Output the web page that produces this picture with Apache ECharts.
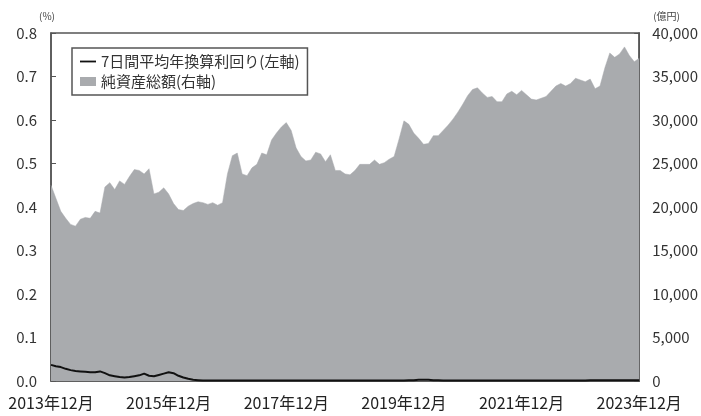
<!DOCTYPE html>
<html>
<head>
<meta charset="utf-8">
<script src="https://cdn.jsdelivr.net/npm/echarts@6/dist/echarts.min.js"></script>
<style>
html,body{margin:0;padding:0;background:#fff;}
#c{width:701px;height:416px;}
</style>
</head>
<body>
<div id="c"></div>
<script>
// Monthly categories 2013-12 .. 2023-12
const months = [];
for (let y = 2013, m = 12; ; ) {
  months.push(y + '年' + m + '月');
  if (y === 2023 && m === 12) break;
  m++; if (m > 12) { m = 1; y++; }
}
const tickLabels = ['2013年12月','2015年12月','2017年12月','2019年12月','2021年12月','2023年12月'];

// 7日間平均年換算利回り (%), left axis
const yieldPct = [
  0.037,0.034,0.032,0.028,0.025,0.023,0.022,0.021,0.020,0.020,0.022,0.018,
  0.013,0.011,0.009,0.008,0.009,0.011,0.013,0.017,0.012,0.011,0.014,0.017,
  0.020,0.018,0.012,0.008,0.005,0.003,0.002,0.001,0.001,0.001,0.001,0.001,
  0.001,0.001,0.001,0.001,0.001,0.001,0.001,0.001,0.001,0.001,0.001,0.001,
  0.001,0.001,0.001,0.001,0.001,0.001,0.001,0.001,0.001,0.001,0.001,0.001,
  0.001,0.001,0.001,0.001,0.001,0.001,0.001,0.001,0.001,0.001,0.001,0.001,
  0.001,0.002,0.002,0.003,0.003,0.003,0.002,0.002,0.001,0.001,0.001,0.001,
  0.001,0.001,0.001,0.001,0.001,0.001,0.001,0.001,0.001,0.001,0.001,0.001,
  0.001,0.001,0.001,0.001,0.001,0.001,0.001,0.001,0.001,0.001,0.001,0.001,
  0.001,0.001,0.002,0.002,0.002,0.002,0.002,0.002,0.002,0.002,0.002,0.002,
  0.002
];

// 純資産総額 (億円), right axis
const netAssets = [
  22500,21000,19500,18700,18000,17800,18600,18800,18700,19500,19300,22300,
  22800,22000,23000,22600,23500,24300,24200,23800,24400,21500,21700,22200,
  21500,20400,19700,19600,20100,20400,20600,20500,20300,20500,20200,20500,
  23800,25900,26200,23800,23600,24500,24900,26200,26000,27700,28500,29200,
  29700,28800,26800,25800,25300,25400,26300,26100,25200,26000,24200,24200,
  23800,23700,24200,24900,24900,24900,25400,24900,25100,25500,25800,27800,
  29900,29500,28500,27900,27200,27300,28200,28200,28800,29400,30100,30900,
  31800,32800,33500,33700,33100,32600,32700,32100,32100,33000,33300,32900,
  33400,32900,32400,32300,32500,32700,33300,33900,34200,33900,34200,34800,
  34600,34400,34700,33600,33900,36000,37700,37200,37600,38400,37400,36700,
  37100
];

const seriesNames = ['7日間平均年換算利回り(左軸)', '純資産総額(右軸)'];

const chart = echarts.init(document.getElementById('c'), null, {renderer: 'canvas'});
const FONT = '"Noto Sans CJK JP", "Noto Sans", sans-serif';
chart.setOption({
  animation: false,
  backgroundColor: '#ffffff',
  textStyle: { fontFamily: FONT },
  grid: {
    left: 51, right: 59, top: 33, bottom: 35,
    show: true, borderColor: '#555', borderWidth: 1.5, backgroundColor: 'transparent'
  },
  legend: {
    left: 72, top: 48,
    orient: 'vertical',
    itemWidth: 16, itemHeight: 9, itemGap: 5,
    padding: [6, 8, 6, 8],
    borderColor: '#555', borderWidth: 1.5,
    textStyle: { fontSize: 15, color: '#333', fontFamily: FONT },
    data: [
      { name: seriesNames[0], icon: 'path://M0,0M16,9M0,3.6L16,3.6L16,5.4L0,5.4Z' },
      { name: seriesNames[1], icon: 'rect' }
    ]
  },
  xAxis: {
    type: 'category',
    data: months,
    boundaryGap: false,
    axisLine: { show: true, lineStyle: { color: '#555', width: 1.5 } },
    axisTick: { show: true, inside: true, length: 8, interval: 23, lineStyle: { color: '#555' } },
    axisLabel: {
      interval: 23, margin: 14, fontSize: 16, color: '#222', fontFamily: FONT,
      formatter: (v, i) => tickLabels[Math.round(i / 24)] || v
    },
    splitLine: { show: false }
  },
  yAxis: [
    {
      type: 'value', min: 0, max: 0.8, interval: 0.1,
      name: '(%)', nameLocation: 'end', nameGap: 12,
      nameTextStyle: { fontSize: 10, color: '#444', align: 'center', padding: [0, 8, 0, 0] },
      axisLine: { show: true, lineStyle: { color: '#555', width: 1.5 } },
      axisTick: { show: true, inside: true, length: 5, lineStyle: { color: '#555' } },
      axisLabel: { fontSize: 15, color: '#333', margin: 14, formatter: v => v.toFixed(1) },
      splitLine: { show: false }
    },
    {
      type: 'value', min: 0, max: 40000, interval: 5000,
      name: '(億円)', nameLocation: 'end', nameGap: 12,
      nameTextStyle: { fontSize: 10, color: '#444', align: 'left', padding: [0, 0, 0, 14] },
      axisLine: { show: true, lineStyle: { color: '#555', width: 1.5 } },
      axisTick: { show: true, inside: true, length: 5, lineStyle: { color: '#555' } },
      axisLabel: { fontSize: 15, color: '#333', margin: 13, formatter: v => v.toLocaleString('en-US') },
      splitLine: { show: false }
    }
  ],
  series: [
    {
      name: seriesNames[1],
      type: 'line',
      yAxisIndex: 1,
      data: netAssets,
      symbol: 'none',
      color: '#a9abae',
      lineStyle: { width: 0.5, color: '#a9abae' },
      areaStyle: { color: '#a9abae', opacity: 1 },
      z: 1
    },
    {
      name: seriesNames[0],
      type: 'line',
      yAxisIndex: 0,
      data: yieldPct,
      symbol: 'none',
      color: '#111',
      lineStyle: { width: 2, color: '#111' },
      z: 3
    }
  ]
});
</script>
</body>
</html>
